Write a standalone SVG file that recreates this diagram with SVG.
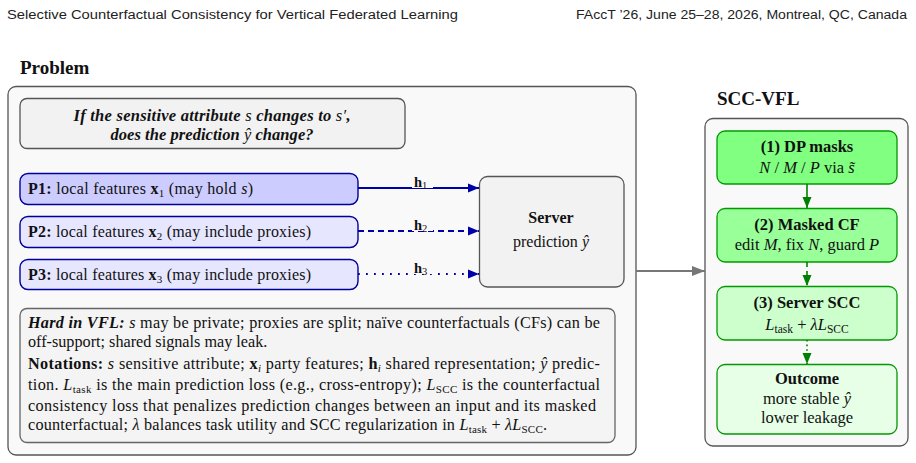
<svg xmlns="http://www.w3.org/2000/svg" width="916" height="463" viewBox="0 0 916 463">
<defs>
<style>
.hdr{font-family:"Liberation Sans",Arial,sans-serif;font-size:12.5px;fill:#222}
.ser{font-family:"Liberation Serif","Times New Roman",serif;fill:#111}
.ttl{font-family:"Liberation Serif","Times New Roman",serif;font-size:19px;font-weight:bold;fill:#111}
.b{font-weight:bold}
.i{font-style:italic}
.panel{fill:#f9f9f9;stroke:#555;stroke-width:1.3}
.gbox{fill:#f2f2f2;stroke:#555;stroke-width:1.3}
.note{fill:#f4f4f4;stroke:#666;stroke-width:1.3}
.p1{fill:#ccccff;stroke:#000099;stroke-width:1.4}
.p2{fill:#e6e6ff;stroke:#000099;stroke-width:1.4}
.g1{fill:#80ff80;stroke:#009900;stroke-width:1.3}
.g2{fill:#99ff99;stroke:#009900;stroke-width:1.3}
.g3{fill:#ccffcc;stroke:#009900;stroke-width:1.3}
.g4{fill:#e6ffe6;stroke:#009900;stroke-width:1.3}
.blue{stroke:#0000a8;stroke-width:1.8;fill:none}
.green{stroke:#008000;stroke-width:1.6;fill:none}
.gray{stroke:#777;stroke-width:1.8;fill:none}
</style>
<marker id="ab" markerUnits="userSpaceOnUse" markerWidth="12" markerHeight="10" refX="11" refY="5" orient="auto"><path d="M0,0.5 L11,5 L0,9.5 z" fill="#0000a8"/></marker>
<marker id="ag" markerUnits="userSpaceOnUse" markerWidth="12" markerHeight="12" refX="11" refY="5" orient="auto"><path d="M0,0.5 L11,5 L0,9.5 z" fill="#008000"/></marker>
<marker id="ay" markerUnits="userSpaceOnUse" markerWidth="14" markerHeight="12" refX="13" refY="5.5" orient="auto"><path d="M0,0.5 L13,5.5 L0,10.5 z" fill="#777"/></marker>
</defs>

<rect width="916" height="463" fill="#fff"/>

<text class="hdr" x="7" y="19" textLength="451" lengthAdjust="spacingAndGlyphs">Selective Counterfactual Consistency for Vertical Federated Learning</text>
<text class="hdr" x="576" y="19" textLength="331" lengthAdjust="spacingAndGlyphs">FAccT ’26, June 25–28, 2026, Montreal, QC, Canada</text>

<text class="ttl" x="20" y="74" font-size="20.5">Problem</text>
<rect class="panel" x="8" y="86.5" width="628" height="368.5" rx="8"/>

<g id="question">
<rect class="gbox" x="20" y="98.5" width="385" height="50" rx="7"/>
<text class="ser b i" x="212" y="121" font-size="16.5" text-anchor="middle" textLength="277">If the sensitive attribute <tspan font-weight="normal">s</tspan> changes to <tspan font-weight="normal">s′</tspan>,</text>
<text class="ser b i" x="212" y="140" font-size="16.5" text-anchor="middle" textLength="203">does the prediction <tspan font-weight="normal">ŷ</tspan> change?</text>
</g>

<g id="p1">
<rect class="p1" x="20" y="173.5" width="338" height="31" rx="8"/>
<text class="ser" x="28" y="194" font-size="16" textLength="225"><tspan class="b">P1:</tspan> local features <tspan class="b">x</tspan><tspan font-size="11" dy="3">1</tspan><tspan dy="-3"> (may hold </tspan><tspan class="i">s</tspan>)</text>
</g>
<g id="p2">
<rect class="p2" x="20" y="216.5" width="338" height="31" rx="8"/>
<text class="ser" x="28" y="237" font-size="16" textLength="283"><tspan class="b">P2:</tspan> local features <tspan class="b">x</tspan><tspan font-size="11" dy="3">2</tspan><tspan dy="-3"> (may include proxies)</tspan></text>
</g>
<g id="p3">
<rect class="p2" x="20" y="259.5" width="338" height="30" rx="8"/>
<text class="ser" x="28" y="280" font-size="16" textLength="283"><tspan class="b">P3:</tspan> local features <tspan class="b">x</tspan><tspan font-size="11" dy="3">3</tspan><tspan dy="-3"> (may include proxies)</tspan></text>
</g>

<g id="server">
<rect class="gbox" x="479.5" y="176.5" width="144.5" height="110.5" rx="8"/>
<text class="ser b" x="551" y="223" font-size="16" text-anchor="middle">Server</text>
<text class="ser" x="551" y="247" font-size="16" text-anchor="middle">prediction <tspan class="i">ŷ</tspan></text>
</g>

<g id="notes">
<rect class="note" x="20" y="308.5" width="595" height="134" rx="7"/>
<text class="ser" x="28" y="328" font-size="16.2" textLength="572" lengthAdjust="spacing"><tspan class="b i">Hard in VFL:</tspan> <tspan class="i">s</tspan> may be private; proxies are split; naïve counterfactuals (CFs) can be</text>
<text class="ser" x="28" y="347" font-size="16.2">off-support; shared signals may leak.</text>
<text class="ser" x="28" y="369" font-size="16.2" textLength="572" lengthAdjust="spacing"><tspan class="b">Notations:</tspan> <tspan class="i">s</tspan> sensitive attribute; <tspan class="b">x</tspan><tspan class="i" font-size="11" dy="3">i</tspan><tspan dy="-3"> party features; </tspan><tspan class="b">h</tspan><tspan class="i" font-size="11" dy="3">i</tspan><tspan dy="-3"> shared representation; </tspan><tspan class="i">ŷ</tspan> predic-</text>
<text class="ser" x="28" y="390" font-size="16.2" textLength="572" lengthAdjust="spacing">tion. <tspan class="i">L</tspan><tspan font-size="11" dy="3">task</tspan><tspan dy="-3"> is the main prediction loss (e.g., cross-entropy); </tspan><tspan class="i">L</tspan><tspan font-size="11" dy="3">SCC</tspan><tspan dy="-3"> is the counterfactual</tspan></text>
<text class="ser" x="28" y="411" font-size="16.2" textLength="568" lengthAdjust="spacing">consistency loss that penalizes prediction changes between an input and its masked</text>
<text class="ser" x="28" y="430" font-size="16.2" textLength="519" lengthAdjust="spacing">counterfactual; <tspan class="i">λ</tspan> balances task utility and SCC regularization in <tspan class="i">L</tspan><tspan font-size="11" dy="3">task</tspan><tspan dy="-3"> + </tspan><tspan class="i">λL</tspan><tspan font-size="11" dy="3">SCC</tspan><tspan dy="-3">.</tspan></text>
</g>

<text class="ttl" x="717" y="105">SCC-VFL</text>
<rect class="panel" x="705" y="118.5" width="203" height="327.5" rx="8"/>

<g id="step1">
<rect class="g1" x="717" y="131" width="180" height="53" rx="8"/>
<text class="ser b" x="807" y="152" font-size="16.5" text-anchor="middle">(1) DP masks</text>
<text class="ser" x="807" y="173" font-size="16.5" text-anchor="middle"><tspan class="i">N</tspan> / <tspan class="i">M</tspan> / <tspan class="i">P</tspan> via <tspan class="i">s̃</tspan></text>
</g>
<g id="step2">
<rect class="g2" x="717" y="208.5" width="180" height="53.5" rx="8"/>
<text class="ser b" x="807" y="230" font-size="16.5" text-anchor="middle">(2) Masked CF</text>
<text class="ser" x="807" y="250" font-size="16.5" text-anchor="middle">edit <tspan class="i">M</tspan>, fix <tspan class="i">N</tspan>, guard <tspan class="i">P</tspan></text>
</g>
<g id="step3">
<rect class="g3" x="717" y="286.5" width="180" height="53.5" rx="8"/>
<text class="ser b" x="807" y="308" font-size="16.5" text-anchor="middle">(3) Server SCC</text>
<text class="ser" x="807" y="330" font-size="16.5" text-anchor="middle"><tspan class="i">L</tspan><tspan font-size="11.5" dy="3">task</tspan><tspan dy="-3"> + </tspan><tspan class="i">λL</tspan><tspan font-size="11.5" dy="3">SCC</tspan></text>
</g>
<g id="outcome">
<rect class="g4" x="717" y="364.5" width="180" height="69.5" rx="8"/>
<text class="ser b" x="807" y="384" font-size="16.5" text-anchor="middle">Outcome</text>
<text class="ser" x="807" y="404" font-size="16.5" text-anchor="middle">more stable <tspan class="i">ŷ</tspan></text>
<text class="ser" x="807" y="423" font-size="16.5" text-anchor="middle">lower leakage</text>
</g>

<g id="connectors">
<line class="blue" x1="358" y1="188" x2="479" y2="188" marker-end="url(#ab)"/>
<line class="blue" x1="358" y1="231" x2="479" y2="231" stroke-dasharray="6 4" marker-end="url(#ab)"/>
<line class="blue" x1="358" y1="274" x2="479" y2="274" stroke-dasharray="1.8 6.2" marker-end="url(#ab)"/>
<rect x="412" y="174" width="21" height="14" fill="#f9f9f9"/>
<rect x="412" y="217" width="21" height="14" fill="#f9f9f9"/>
<rect x="412" y="260" width="21" height="14" fill="#f9f9f9"/>
<text class="ser" x="414" y="187" font-size="14.5"><tspan class="b">h</tspan><tspan font-size="10.5" dy="2">1</tspan></text>
<text class="ser" x="414" y="230" font-size="14.5"><tspan class="b">h</tspan><tspan font-size="10.5" dy="2">2</tspan></text>
<text class="ser" x="414" y="273" font-size="14.5"><tspan class="b">h</tspan><tspan font-size="10.5" dy="2">3</tspan></text>
<line class="gray" x1="636" y1="271" x2="705" y2="271" marker-end="url(#ay)"/>
<line class="green" x1="807" y1="184" x2="807" y2="208" marker-end="url(#ag)"/>
<line class="green" x1="807" y1="262" x2="807" y2="286" stroke-dasharray="5 4" marker-end="url(#ag)"/>
<line class="green" x1="807" y1="340" x2="807" y2="364" stroke-dasharray="1.6 3" marker-end="url(#ag)"/>
</g>
</svg>
